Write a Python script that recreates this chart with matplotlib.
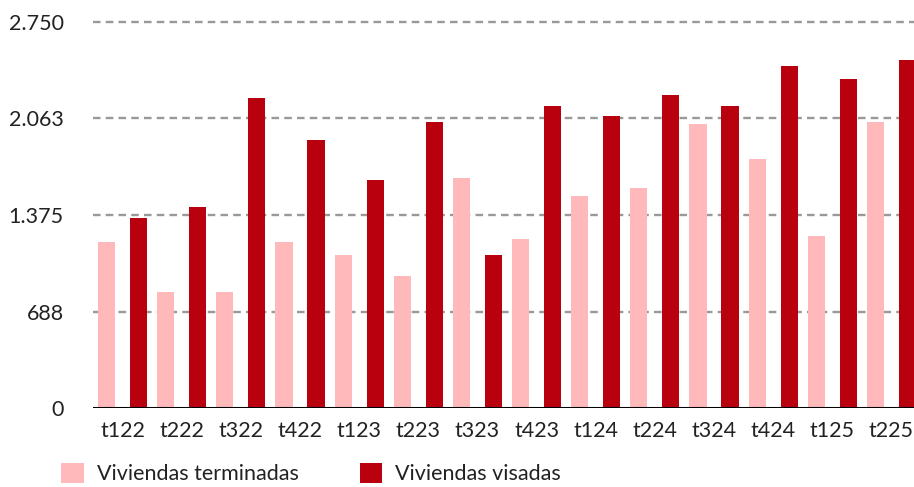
import numpy as np
import matplotlib.pyplot as plt

# data
trimestres = ["t122", "t222", "t322", "t422", "t123", "t223", "t323",
              "t423", "t124", "t224", "t324", "t424", "t125", "t225"]
terminadas = [1183, 827, 827, 1183, 1090, 941, 1638,
              1204, 1510, 1567, 2022, 1773, 1226, 2036]
visadas = [1354, 1432, 2207, 1908, 1624, 2036, 1090,
           2150, 2079, 2229, 2150, 2435, 2342, 2478]
y_ticks = [0, 687.5, 1375, 2062.5, 2750]
y_labels = ["0", "688", "1.375", "2.063", "2.750"]

pink = "#FFB9BB"
red = "#B8000E"

plt.rcParams['font.family'] = ['Lato', 'DejaVu Sans']

fig = plt.figure(figsize=(9.14, 4.87), dpi=100)
ax = fig.add_axes([93 / 914, 0.1616, 828 / 914, 0.7938])

x = np.arange(len(trimestres))
w = 0.29
ax.bar(x - 0.27, terminadas, w, color=pink, label="Viviendas terminadas", zorder=2)
ax.bar(x + 0.27, visadas, w, color=red, label="Viviendas visadas", zorder=2)

ax.set_xlim(-0.5, 13.5)
ax.set_ylim(0, 2750)
ax.set_yticks(y_ticks)
ax.set_yticklabels(y_labels)
ax.set_xticks(x)
ax.set_xticklabels(trimestres)

for t in y_ticks[1:]:
    ax.axhline(t, color="#999999", lw=1.7, dashes=(3.2, 2.2), zorder=1, clip_on=False)
ax.axhline(0, color="black", lw=2.2, zorder=3)

for s in ax.spines.values():
    s.set_visible(False)
ax.tick_params(axis="y", length=0, pad=21, labelsize=15.5, labelcolor="#222222")
ax.tick_params(axis="x", length=0, pad=9, labelsize=15.5, labelcolor="#222222")

fig.legend(loc="upper left", bbox_to_anchor=(61 / 914, 1 - 463 / 487), ncol=2,
           frameon=False, fontsize=15.5, handlelength=1.05, handleheight=1.05,
           handletextpad=0.6, columnspacing=2.85, labelcolor="#222222",
           borderaxespad=0, borderpad=0)

fig.savefig("out.png", dpi=100)
